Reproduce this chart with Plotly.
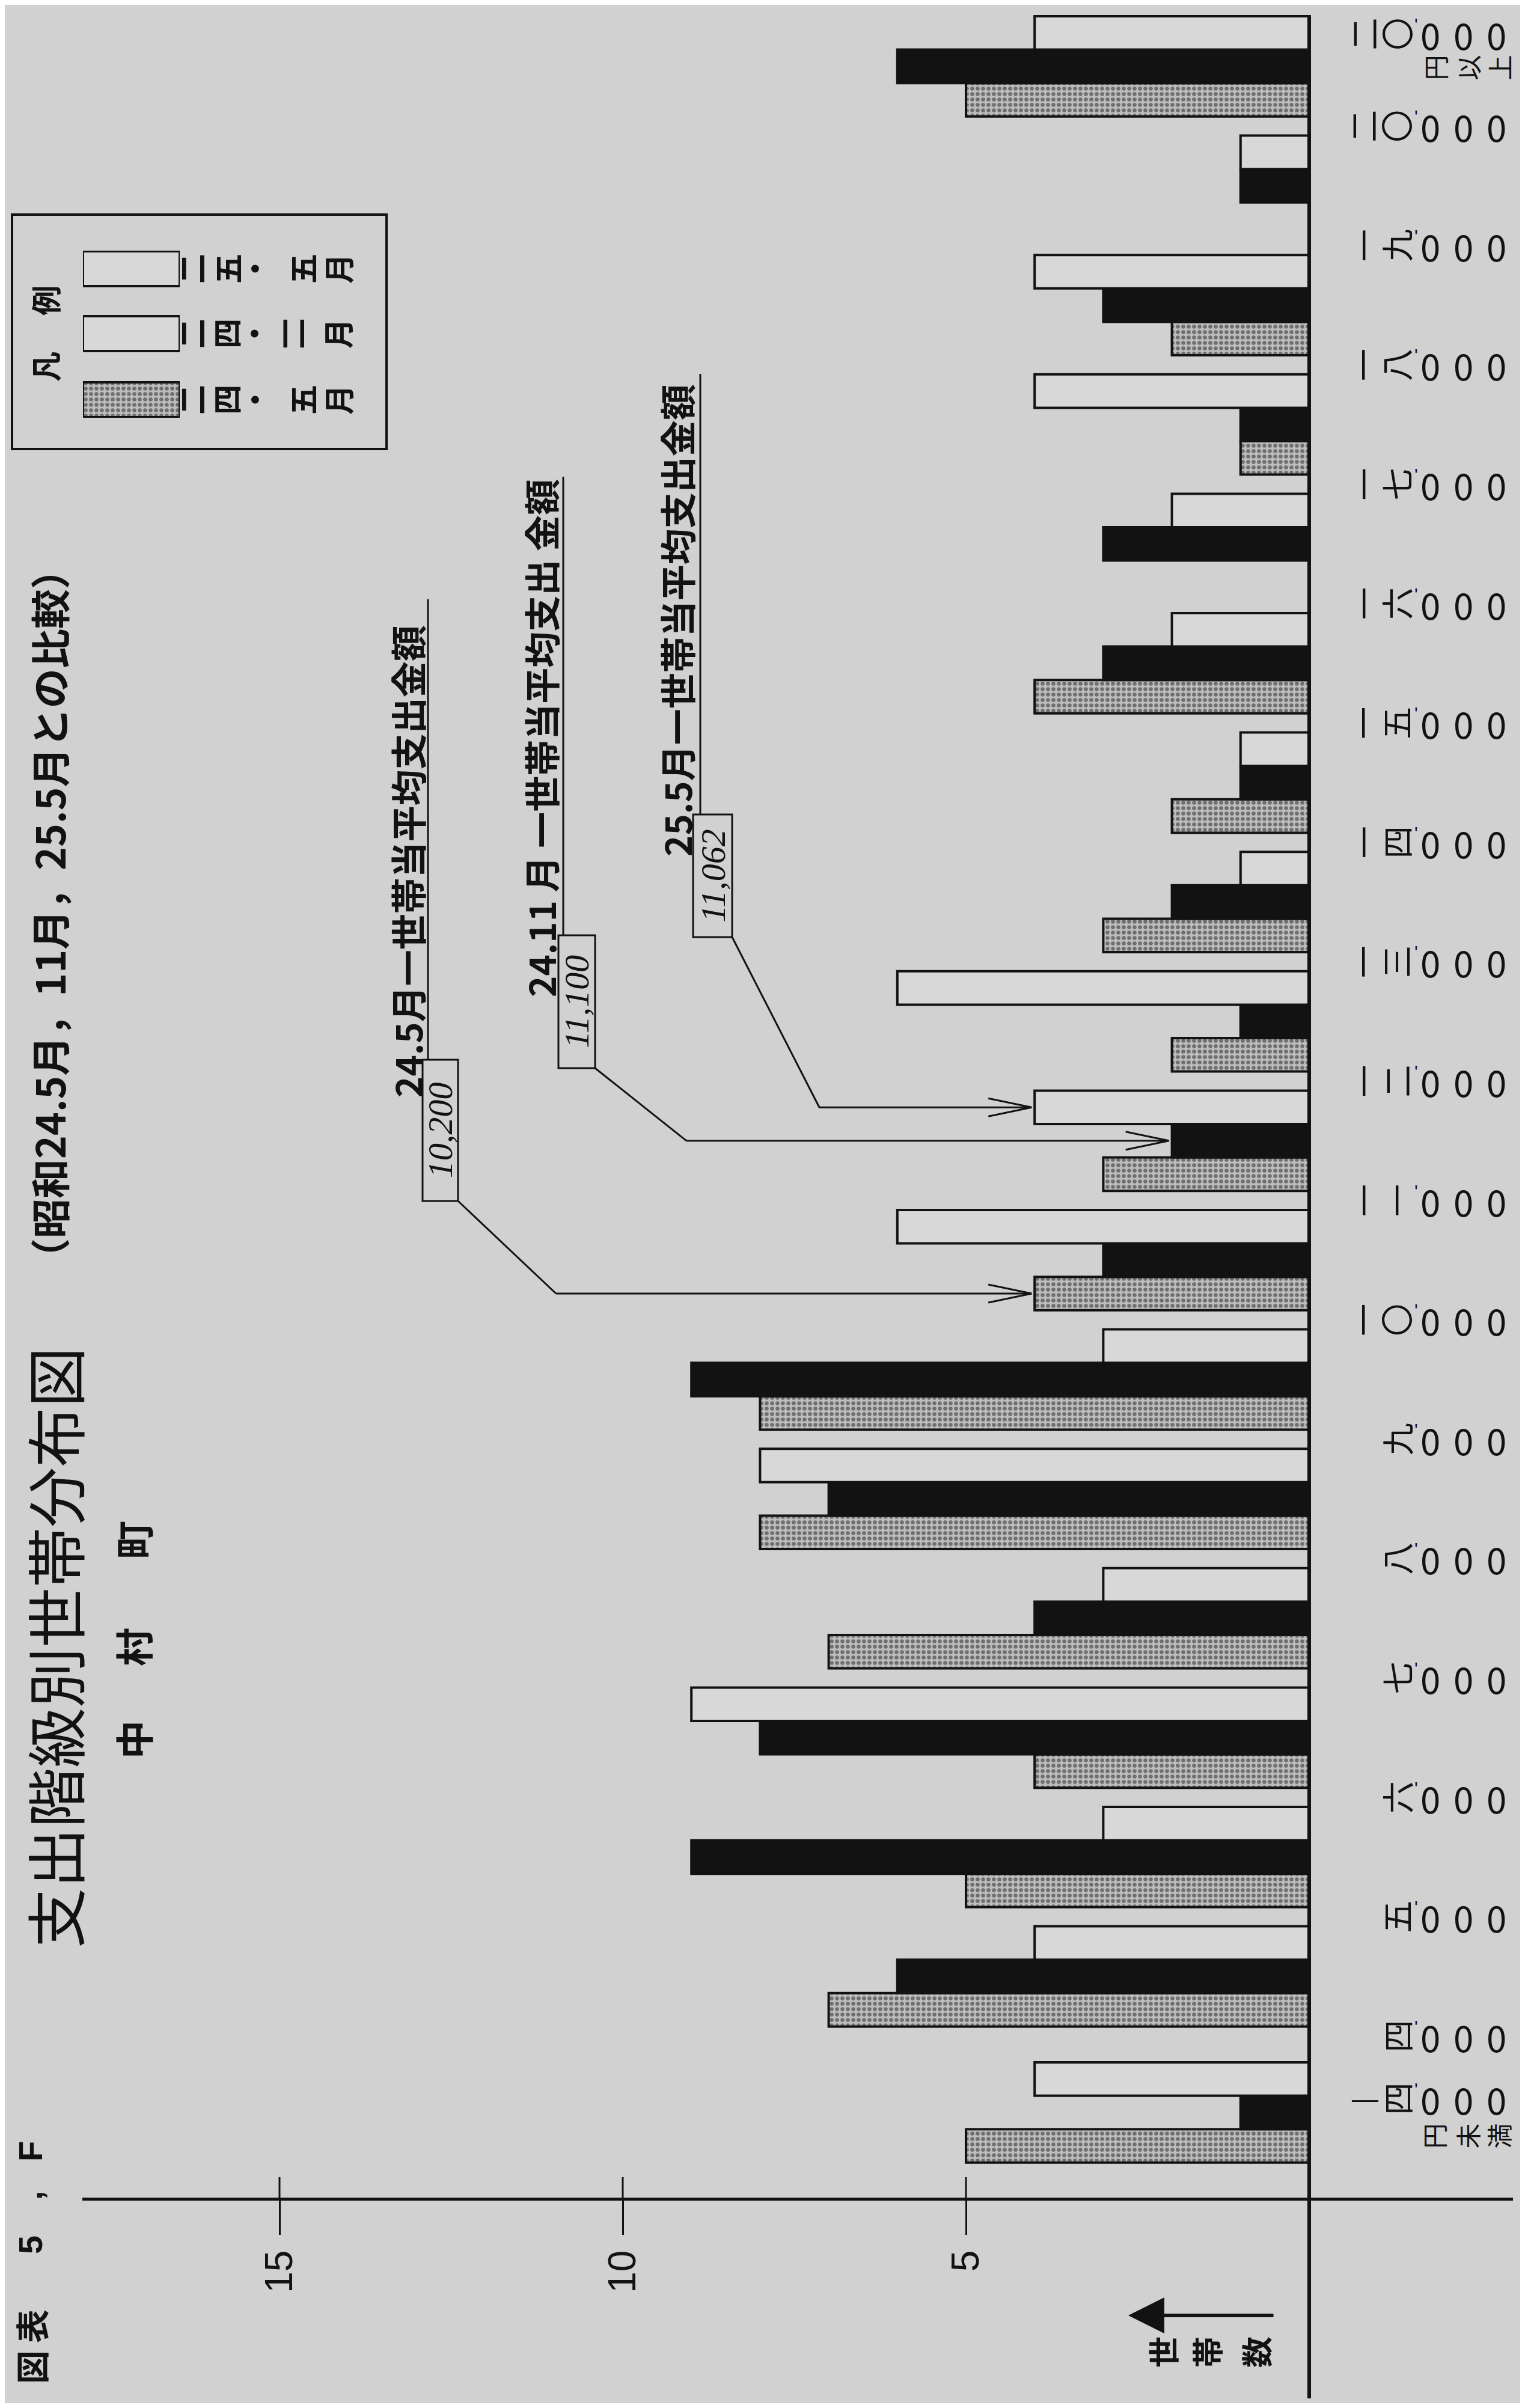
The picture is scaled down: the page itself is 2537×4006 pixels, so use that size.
import plotly.graph_objects as go

# ---------------- data ----------------
groups = ["四,000円未満", "四,000〜", "五,000〜", "六,000〜", "七,000〜", "八,000〜",
          "九,000〜", "一〇,000〜", "一一,000〜", "一二,000〜", "一三,000〜", "一四,000〜",
          "一五,000〜", "一六,000〜", "一七,000〜", "一八,000〜", "一九,000〜", "二〇,000円以上"]
boundary_labels = ["四,000", "五,000", "六,000", "七,000", "八,000", "九,000", "一〇,000",
                   "一一,000", "一二,000", "一三,000", "一四,000", "一五,000", "一六,000",
                   "一七,000", "一八,000", "一九,000", "二〇,000"]
low_label, low_suffix = "四,000", "円未満"
high_label, high_suffix = "二〇,000", "円以上"

series_names = ["二四・五月", "二四・一一月", "二五・五月"]
may24 = [5, 7, 5, 4, 7, 8, 8, 4, 3, 2, 3, 2, 4, 0, 1, 2, 0, 5]
nov24 = [1, 6, 9, 8, 4, 7, 9, 3, 2, 1, 2, 1, 3, 3, 1, 3, 1, 6]
may25 = [4, 4, 3, 9, 3, 8, 3, 6, 4, 6, 1, 1, 2, 2, 4, 4, 1, 4]

value_ticks = [5, 10, 15]
avg_titles = ["24.5月一世帯当平均支出金額", "24.11 月 一世帯当平均支出 金額", "25.5月一世帯当平均支出金額"]
avg_amounts = ["10,200", "11,100", "11,062"]

title_main = "支出階級別世帯分布図"
title_sub = "（昭和24.5月，11月，25.5月との比較）"
fig_no = ["図", "表", "5", ",", "F"]
town = ["中", "村", "町"]
legend_title = ["凡", "例"]
axis_name = ["世", "帯", "数"]

# ---------------- geometry / style ----------------
OFF, W, H = 8, 2521, 3990
INK = "#121212"
BG = "#d1d1d1"
WHITE_FILL = "#d8d8d8"
CJK = "Noto Sans CJK JP"
LAT = "Liberation Sans"

X0_PAGE, UNIT = 2178, 114.2       # page x of value 0, px per household
Y1_PAGE, PITCH = 3288, 198.6      # page y of group 1 centre, px per group
BAR_W = 0.28
FIRST_GAP = 0.14
PLOT_L, PLOT_R, PLOT_B = 137, 2517, 3656

positions = [i - (FIRST_GAP if i == 0 else 0) for i in range(len(groups))]


def pgx(v):
    return X0_PAGE - v * UNIT


def pgy(v):
    return Y1_PAGE - (v - 1) * PITCH


def px(p):
    return (p - OFF) / W


def py(p):
    return 1 - (p - OFF) / H


annotations = []
shapes = []


def txt(x, y, s, size, angle=-90, family=CJK, weight="normal", italic=False):
    annotations.append(dict(
        x=px(x), y=py(y), xref="paper", yref="paper", text=s, showarrow=False,
        textangle=angle, xanchor="center", yanchor="middle",
        font=dict(size=size, family=family, color=INK, weight=weight,
                  style="italic" if italic else "normal")))


def line(x0, y0, x1, y1, w=3):
    shapes.append(dict(type="line", xref="paper", yref="paper",
                       x0=px(x0), y0=py(y0), x1=px(x1), y1=py(y1),
                       line=dict(color=INK, width=w)))


def rect(x0, y0, x1, y1, w=3):
    shapes.append(dict(type="rect", xref="paper", yref="paper",
                       x0=px(x0), y0=py(y0), x1=px(x1), y1=py(y1),
                       line=dict(color=INK, width=w), fillcolor="rgba(0,0,0,0)"))


dotted = dict(color="#b4b4b4", pattern=dict(shape=".", fgcolor="#222222", bgcolor="#bdbdbd",
                                            size=9, solidity=0.42),
              line=dict(color=INK, width=4))
solid = dict(color=INK, line=dict(color=INK, width=4))
hollow = dict(color=WHITE_FILL, line=dict(color=INK, width=4))
styles = [dotted, solid, hollow]
offsets = [-1.5 * BAR_W, -0.5 * BAR_W, 0.5 * BAR_W]

fig = go.Figure()
for vals, name, st, off in zip([may24, nov24, may25], series_names, styles, offsets):
    fig.add_trace(go.Bar(orientation="h", x=vals, y=positions, base=0, width=BAR_W,
                         offset=off, marker=st, name=name, showlegend=False,
                         hovertext=groups))

# legend swatches (small subplot so the same fills are used); the printed key shows
# the 24.11 swatch as an open box, so it is kept that way here
LEG_TOP, LEG_BOT = 417, 695
legend_rows_y = [665, 555, 447]
legend_styles = [dotted, hollow, hollow]
for st, ry in zip(legend_styles, legend_rows_y):
    fig.add_trace(go.Bar(orientation="h", x=[1], y=[(LEG_BOT - ry) / (LEG_BOT - LEG_TOP)],
                         base=0, width=58 / (LEG_BOT - LEG_TOP), marker=st,
                         xaxis="x2", yaxis="y2", showlegend=False, hoverinfo="skip"))

# ---------------- axes ----------------
xrange = [(X0_PAGE - PLOT_L) / UNIT, (X0_PAGE - PLOT_R) / UNIT]
yrange = [1 + (Y1_PAGE - PLOT_B) / PITCH, 1 + (Y1_PAGE - OFF) / PITCH]

fig.update_layout(
    width=W, height=H, autosize=False,
    margin=dict(l=0, r=0, t=0, b=0, pad=0),
    paper_bgcolor=BG, plot_bgcolor=BG,
    barmode="overlay", showlegend=False,
    xaxis=dict(range=xrange, domain=[px(PLOT_L), px(PLOT_R)], anchor="y",
               showgrid=False, zeroline=False, showline=True, linecolor=INK, linewidth=5,
               ticks="outside", ticklen=57, tickwidth=3, tickcolor=INK,
               tickvals=value_ticks, ticktext=[str(v) for v in value_ticks],
               tickangle=-90, tickfont=dict(size=64, family=LAT, color=INK)),
    yaxis=dict(range=yrange, domain=[py(PLOT_B), 1], anchor="x", visible=False),
    xaxis2=dict(range=[0, 1], domain=[px(138), px(299)], anchor="y2", visible=False),
    yaxis2=dict(range=[0, 1], domain=[py(LEG_BOT), py(LEG_TOP)], anchor="x2", visible=False),
)

# upward tick stubs and the zero line
for v in value_ticks:
    line(pgx(v), 3622, pgx(v), PLOT_B, w=3)
line(X0_PAGE, 25, X0_PAGE, 3990, w=6)

# ---------------- category (amount) labels ----------------
KANJI_X = {1: [2323], 2: [2267, 2322]}
COMMA_X = 2356
DIGIT_X = [2379, 2434, 2489]


def amount(label, yc):
    head, tail = label.split(",")
    for ch, x in zip(head, KANJI_X[len(head)]):
        txt(x, yc, ch, 54)
    txt(COMMA_X, yc - 16, "'", 30, angle=0, family=LAT)
    for ch, x in zip(tail, DIGIT_X):
        txt(x, yc, ch, 60, angle=0)


for k, lab in enumerate(boundary_labels):
    amount(lab, pgy(k + 0.5))

y_low = pgy(positions[0])
amount(low_label, y_low - 23)
txt(2271, y_low - 23, "—", 44, angle=0, family=LAT)
for ch, x in zip(low_suffix, [2384, 2440, 2492]):
    txt(x, y_low + 39, ch, 42)

y_high = pgy(positions[-1])
amount(high_label, y_high - 54)
for ch, x in zip(high_suffix, [2386, 2441, 2493]):
    txt(x, y_high + 2, ch, 42)

# axis name with arrow
annotations.append(dict(x=px(1877), y=py(3852), xref="paper", yref="paper", text="",
                        showarrow=True, ax=243, ay=0, axref="pixel", ayref="pixel",
                        arrowhead=2, arrowsize=2.0, arrowwidth=6, arrowcolor=INK))
for ch, x in zip(axis_name, [1933, 2006, 2088]):
    txt(x, 3913, ch, 52, weight="bold")

# ---------------- titles ----------------
txt(88, 2741, title_main, 100)
txt(80, 1520, title_sub, 66, weight="bold")
for ch, y in zip(fig_no, [3938, 3870, 3735, 3652, 3579]):
    txt(50, y, ch, 56, weight="bold", family=CJK if ch in "図表" else LAT)
for ch, y in zip(town, [2894, 2740, 2562]):
    txt(220, y, ch, 64, weight="bold")

# ---------------- legend ----------------
rect(20, 357, 643, 747, w=4)
for ch, y in zip(legend_title, [610, 500]):
    txt(74, y, ch, 50, weight="bold")
legend_char_x = [[317, 375, 421, 502, 561],
                 [317, 375, 420, 472, 500, 560],
                 [317, 377, 421, 502, 561]]
for name, ry, xs in zip(series_names, legend_rows_y, legend_char_x):
    for ch, x in zip(name, xs):
        txt(x, ry, ch, 50, weight="bold")

# ---------------- average-expenditure call-outs ----------------
callouts = [
    dict(tc=(676, 1433), ul=(712, 997), box=(703, 1763, 762, 1998), elbow=925,
         tip=(may24, 7, offsets[0])),
    dict(tc=(898, 1228), ul=(937, 793), box=(929, 1556, 990, 1777), elbow=1142,
         tip=(nov24, 8, offsets[1])),
    dict(tc=(1125, 1032), ul=(1165, 622), box=(1153, 1355, 1218, 1559), elbow=1363,
         tip=(may25, 8, offsets[2])),
]
for c, title, amt in zip(callouts, avg_titles, avg_amounts):
    txt(c["tc"][0], c["tc"][1], title, 60, weight="bold")
    x0, y0, x1, y1 = c["box"]
    line(c["ul"][0], c["ul"][1], c["ul"][0], y0, w=3)
    rect(x0, y0, x1, y1, w=3)
    txt((x0 + x1) / 2, (y0 + y1) / 2, amt, 58, family="Liberation Serif", italic=True)
    vals, gi, off = c["tip"]
    tx = pgx(vals[gi]) - 5
    ty = pgy(positions[gi] + off + BAR_W / 2)
    line(x1, y1, c["elbow"], ty, w=3)
    line(c["elbow"], ty, tx, ty, w=3)
    line(tx, ty, tx - 72, ty - 15, w=3)
    line(tx, ty, tx - 72, ty + 15, w=3)

fig.update_layout(annotations=annotations, shapes=shapes)
fig.write_html("out.html")
